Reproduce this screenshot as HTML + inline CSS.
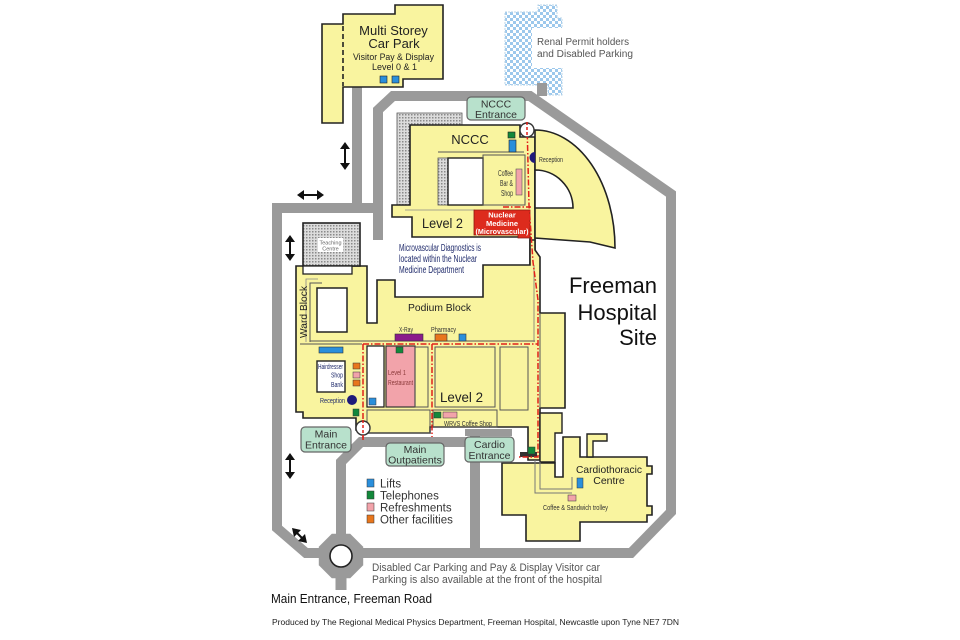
<!DOCTYPE html>
<html><head><meta charset="utf-8">
<style>html,body{margin:0;padding:0;background:#fff}svg{display:block}</style>
</head>
<body>
<svg width="960" height="640" viewBox="0 0 960 640" xmlns="http://www.w3.org/2000/svg" font-family="'Liberation Sans', sans-serif">
<defs>
  <pattern id="stip" width="3" height="3" patternUnits="userSpaceOnUse">
    <rect width="3" height="3" fill="#dcdcdc"/><rect width="1.5" height="1.5" fill="#8a8a8a"/>
  </pattern>
  <pattern id="chk" width="6" height="6" patternUnits="userSpaceOnUse">
    <rect width="6" height="6" fill="#ffffff"/>
    <rect width="3" height="3" fill="#9cc8ec"/><rect x="3" y="3" width="3" height="3" fill="#9cc8ec"/>
  </pattern>
</defs>
<rect width="960" height="640" fill="#fff"/>

<!-- Renal parking -->
<polygon points="505,12 538,12 538,5 557,5 557,18 562,18 562,95 548,95 548,85 505,85" fill="url(#chk)" stroke="#b8d4ea" stroke-width="1" stroke-dasharray="2,1"/>
<rect x="532" y="28" width="32" height="40" fill="#fff"/>
<text x="537" y="45" font-size="10" fill="#555" textLength="92" lengthAdjust="spacingAndGlyphs">Renal Permit holders</text>
<text x="537" y="57" font-size="10" fill="#555" textLength="96" lengthAdjust="spacingAndGlyphs">and Disabled Parking</text>

<!-- Roads -->
<g fill="none" stroke="#9a9a9a" stroke-width="10" stroke-linejoin="miter">
  <path d="M357,87 V213"/>
  <path d="M383,208 H277 V528 L306,553 H341"/>
  <path d="M378,240 V110 L393,96 H530 L671,194 V512 L631,553 H341"/>
  <path d="M542,83 V96"/>
  <path d="M341,540 V462 L361,442 H480"/>
  <path d="M475,430 V553"/>
  <path d="M341,570 V590" stroke-width="11"/>
</g>
<rect x="465" y="429" width="47" height="7" fill="#9a9a9a"/>
<polygon points="363.2,546.8 350.2,533.8 331.8,533.8 318.8,546.8 318.8,565.2 331.8,578.2 350.2,578.2 363.2,565.2" fill="#9a9a9a"/>
<circle cx="341" cy="556" r="11" fill="#fff" stroke="#222" stroke-width="1.6"/>

<!-- Car park -->
<polygon points="322,24 343,24 343,14 395,14 395,5 443,5 443,79 403,79 403,87 343,87 343,123 322,123" fill="#f9f49f" stroke="#222" stroke-width="1.6"/>
<line x1="343" y1="26" x2="343" y2="86" stroke="#222" stroke-width="1.6" stroke-dasharray="5,3"/>
<rect x="380" y="76" width="7" height="7" fill="#2a8fdc" stroke="#222" stroke-width="0.6"/>
<rect x="392" y="76" width="7" height="7" fill="#2a8fdc" stroke="#222" stroke-width="0.6"/>
<text x="393.5" y="35" font-size="13" fill="#222" text-anchor="middle">Multi Storey</text>
<text x="394" y="48" font-size="13" fill="#222" text-anchor="middle">Car Park</text>
<text x="393.5" y="60" font-size="9" fill="#222" text-anchor="middle" textLength="81" lengthAdjust="spacingAndGlyphs">Visitor Pay &amp; Display</text>
<text x="394.5" y="70" font-size="9" fill="#222" text-anchor="middle" textLength="45" lengthAdjust="spacingAndGlyphs">Level 0 &amp; 1</text>

<!-- NCCC stipple L -->
<polygon points="397,113 462,113 462,125 410,125 410,205 397,205" fill="url(#stip)" stroke="#555" stroke-width="0.8"/>

<!-- Top group: NCCC + corridor + Level 2 -->
<polygon points="410,125 520,125 520,137 535,137 535,268 530,268 530,237 412,237 412,217 392,217 392,205 410,205" fill="#f9f49f" stroke="#222" stroke-width="1.6"/>
<rect x="438" y="158" width="10" height="47" fill="url(#stip)" stroke="#555" stroke-width="0.8"/>
<rect x="448" y="158" width="35" height="47" fill="#fff" stroke="#222" stroke-width="1.4"/>
<line x1="438" y1="152" x2="524" y2="152" stroke="#555" stroke-width="1"/>
<rect x="483" y="155" width="42" height="50" fill="none" stroke="#555" stroke-width="1"/>
<line x1="405" y1="210" x2="475" y2="210" stroke="#888" stroke-width="0.8"/>
<rect x="508" y="132" width="7" height="6" fill="#12883a" stroke="#222" stroke-width="0.6"/>
<rect x="509" y="140" width="7" height="12" fill="#2a8fdc" stroke="#222" stroke-width="0.6"/>
<rect x="516" y="169" width="6" height="26" fill="#f2a3aa" stroke="#555" stroke-width="0.6"/>
<text x="470" y="144" font-size="13" fill="#222" text-anchor="middle">NCCC</text>
<text x="513" y="176" font-size="8.5" fill="#333" text-anchor="end" textLength="15" lengthAdjust="spacingAndGlyphs">Coffee</text>
<text x="513" y="186" font-size="8.5" fill="#333" text-anchor="end" textLength="13" lengthAdjust="spacingAndGlyphs">Bar &amp;</text>
<text x="513" y="196" font-size="8.5" fill="#333" text-anchor="end" textLength="12" lengthAdjust="spacingAndGlyphs">Shop</text>
<text x="422" y="228" font-size="13.5" fill="#222" textLength="41" lengthAdjust="spacingAndGlyphs">Level 2</text>

<!-- Nuclear medicine -->
<polygon points="474,210 530,210 530,238 518,238 518,235 474,235" fill="#dd2b1d" stroke="#8a1a10" stroke-width="0.8"/>
<text x="502" y="217.5" font-size="7.5" font-weight="bold" fill="#fff" text-anchor="middle">Nuclear</text>
<text x="502" y="226" font-size="7.5" font-weight="bold" fill="#fff" text-anchor="middle">Medicine</text>
<text x="502" y="234" font-size="7.5" font-weight="bold" fill="#fff" text-anchor="middle" textLength="53" lengthAdjust="spacingAndGlyphs">(Microvascular)</text>

<!-- Curved NCCC building -->
<path d="M535,130 A80,118 0 0 1 615,248 L590,242 L535,238 Z" fill="#f9f49f" stroke="#222" stroke-width="1.6"/>
<path d="M535,170 A38,38 0 0 1 573,208 L535,208 Z" fill="#fff" stroke="#222" stroke-width="1.6"/>
<path d="M535,152 A5,5 0 0 0 535,163 Z" fill="#1f1a7a"/>
<text x="539" y="162" font-size="7.5" fill="#333" textLength="24" lengthAdjust="spacingAndGlyphs">Reception</text>

<!-- Main complex -->
<polygon points="296,266 367,266 367,323 377,323 377,280 395,280 395,297 483,297 483,265 530,265 530,240 535,240 535,250 540,257 540,313 565,313 565,408 540,408 540,460 528,460 528,427 430,427 430,433 368,433 368,430 356,430 356,418 303,418 303,412 296,412" fill="#f9f49f" stroke="#222" stroke-width="1.6"/>
<!-- teaching centre -->
<rect x="303" y="223" width="57" height="43" fill="url(#stip)" stroke="#222" stroke-width="1.6"/>
<rect x="318" y="238" width="25" height="14" fill="#fff"/>
<text x="330.5" y="244.5" font-size="5.5" fill="#666" text-anchor="middle">Teaching</text>
<text x="330.5" y="250.5" font-size="5.5" fill="#666" text-anchor="middle">Centre</text>
<rect x="303" y="266" width="49" height="8" fill="#fff" stroke="#222" stroke-width="1.3"/>
<!-- ward block -->
<polyline points="322,283 310,283 310,342" fill="none" stroke="#555" stroke-width="1"/>
<polyline points="318,279 306,279 306,342" fill="none" stroke="#888" stroke-width="0.8"/>
<rect x="317" y="288" width="30" height="44" fill="#fff" stroke="#222" stroke-width="1.5"/>
<text transform="translate(307,338) rotate(-90)" font-size="10.5" fill="#222" textLength="52" lengthAdjust="spacingAndGlyphs">Ward Block</text>
<line x1="310" y1="341" x2="535" y2="341" stroke="#555" stroke-width="1"/>
<line x1="300" y1="344" x2="362" y2="344" stroke="#555" stroke-width="1"/>
<line x1="534" y1="265" x2="534" y2="342" stroke="#777" stroke-width="0.8"/>
<line x1="540" y1="313" x2="540" y2="408" stroke="#555" stroke-width="1"/>
<text x="408" y="311" font-size="10.5" fill="#222" textLength="63" lengthAdjust="spacingAndGlyphs">Podium Block</text>
<text x="399" y="251" font-size="10" fill="#1f2a6b" textLength="82" lengthAdjust="spacingAndGlyphs">Microvascular Diagnostics is</text>
<text x="399" y="262" font-size="10" fill="#1f2a6b" textLength="78" lengthAdjust="spacingAndGlyphs">located within the Nuclear</text>
<text x="399" y="273" font-size="10" fill="#1f2a6b" textLength="65" lengthAdjust="spacingAndGlyphs">Medicine Department</text>

<!-- X-ray / pharmacy -->
<text x="399" y="332" font-size="7.5" fill="#333" textLength="14" lengthAdjust="spacingAndGlyphs">X-Ray</text>
<text x="431" y="332" font-size="7.5" fill="#333" textLength="25" lengthAdjust="spacingAndGlyphs">Pharmacy</text>
<rect x="395" y="334" width="28" height="7" fill="#8b1a8b" stroke="#333" stroke-width="0.6"/>
<rect x="435" y="334" width="12" height="7" fill="#e8761c" stroke="#333" stroke-width="0.6"/>
<rect x="459" y="334" width="7" height="7" fill="#2a8fdc" stroke="#333" stroke-width="0.6"/>

<!-- ward facilities -->
<rect x="319" y="347" width="24" height="6" fill="#2a8fdc" stroke="#333" stroke-width="0.6"/>
<rect x="317" y="361" width="28" height="31" fill="#fff" stroke="#222" stroke-width="1.4"/>
<text x="318" y="369" font-size="7" fill="#1f2a6b" textLength="25" lengthAdjust="spacingAndGlyphs">Hairdresser</text>
<text x="343" y="377.5" font-size="7" fill="#1f2a6b" text-anchor="end" textLength="12" lengthAdjust="spacingAndGlyphs">Shop</text>
<text x="343" y="387" font-size="7" fill="#1f2a6b" text-anchor="end" textLength="12" lengthAdjust="spacingAndGlyphs">Bank</text>
<rect x="353" y="363" width="7" height="6" fill="#e8761c" stroke="#333" stroke-width="0.5"/>
<rect x="353" y="372" width="7" height="6" fill="#f2a3aa" stroke="#333" stroke-width="0.5"/>
<rect x="353" y="380" width="7" height="6" fill="#e8761c" stroke="#333" stroke-width="0.5"/>
<circle cx="352" cy="400" r="5" fill="#1f1a7a"/>
<text x="320" y="403" font-size="7.5" fill="#1f2a6b" textLength="25" lengthAdjust="spacingAndGlyphs">Reception</text>
<rect x="353" y="409" width="6" height="7" fill="#12883a" stroke="#333" stroke-width="0.5"/>

<!-- Level 1 grid -->
<rect x="367" y="346" width="17" height="61" fill="#fff" stroke="#222" stroke-width="1.3"/>
<rect x="369" y="398" width="7" height="7" fill="#2a8fdc" stroke="#333" stroke-width="0.5"/>
<rect x="386" y="346" width="29" height="61" fill="#f2a3aa" stroke="#333" stroke-width="1.2"/>
<rect x="396" y="347" width="7" height="6" fill="#12883a" stroke="#333" stroke-width="0.5"/>
<text x="388" y="375" font-size="7.5" fill="#8b3a3a" textLength="18" lengthAdjust="spacingAndGlyphs">Level 1</text>
<text x="388" y="385" font-size="7.5" fill="#8b3a3a" textLength="25" lengthAdjust="spacingAndGlyphs">Restaurant</text>
<rect x="415" y="347" width="13" height="60" fill="none" stroke="#555" stroke-width="1"/>
<rect x="435" y="347" width="60" height="60" fill="none" stroke="#555" stroke-width="1"/>
<rect x="500" y="347" width="28" height="63" fill="none" stroke="#555" stroke-width="1"/>
<rect x="367" y="410" width="63" height="23" fill="none" stroke="#555" stroke-width="1"/>
<rect x="433" y="410" width="64" height="17" fill="none" stroke="#555" stroke-width="1"/>
<text x="440" y="402" font-size="14" fill="#222" textLength="43" lengthAdjust="spacingAndGlyphs">Level 2</text>
<rect x="434" y="412" width="7" height="6" fill="#12883a" stroke="#333" stroke-width="0.5"/>
<rect x="443" y="412" width="14" height="6" fill="#f2a3aa" stroke="#333" stroke-width="0.5"/>
<text x="444" y="426" font-size="7" fill="#333" textLength="48" lengthAdjust="spacingAndGlyphs">WRVS Coffee Shop</text>

<!-- Cardiothoracic -->
<polygon points="540,413 562,413 562,433 555,433 555,462 540,462" fill="#f9f49f" stroke="#222" stroke-width="1.4"/>
<polygon points="502,463 555,463 555,477 563,477 563,437 580,437 580,457 647,457 647,466 652,466 652,474 647,474 647,506 652,506 652,515 647,515 647,522 580,522 580,541 526,541 526,515 502,515" fill="#f9f49f" stroke="#222" stroke-width="1.6"/>
<polygon points="587,457 587,434 607,434 607,441 593,441 593,457" fill="#f9f49f" stroke="#222" stroke-width="1.4"/>
<polyline points="535,460 535,493 572,493" fill="none" stroke="#777" stroke-width="1"/>
<polyline points="540,462 540,489 572,489 572,477" fill="none" stroke="#777" stroke-width="1"/>
<rect x="577" y="478" width="6" height="10" fill="#2a8fdc" stroke="#333" stroke-width="0.5"/>
<rect x="568" y="495" width="8" height="6" fill="#f2a3aa" stroke="#333" stroke-width="0.5"/>
<text x="609" y="473" font-size="10.5" fill="#222" text-anchor="middle" textLength="66" lengthAdjust="spacingAndGlyphs">Cardiothoracic</text>
<text x="609" y="484" font-size="10.5" fill="#222" text-anchor="middle">Centre</text>
<text x="543" y="510" font-size="7" fill="#333" textLength="65" lengthAdjust="spacingAndGlyphs">Coffee &amp; Sandwich trolley</text>
<rect x="520" y="452" width="17" height="5" fill="#333"/>
<rect x="528" y="447" width="7" height="7" fill="#12883a" stroke="#333" stroke-width="0.5"/>

<!-- Red route -->
<g fill="none" stroke="#e0201a" stroke-width="1.5" stroke-dasharray="6,2,1.5,2">
  <path d="M527,122 L529,205 L533,262 L538,300 L538,457 L517,457"/>
  <path d="M503,207 H531"/>
  <path d="M363,344 H538"/>
  <path d="M363,344 V440"/>
  <path d="M432,344 V437"/>
</g>

<!-- entrance circles -->
<circle cx="527" cy="130" r="7" fill="#fff" stroke="#333" stroke-width="1.4"/>
<line x1="527" y1="122" x2="527" y2="138" stroke="#e0201a" stroke-width="1.5" stroke-dasharray="3,2"/>
<circle cx="363" cy="428" r="7" fill="#fff" stroke="#333" stroke-width="1.4"/>
<line x1="363" y1="420" x2="363" y2="440" stroke="#e0201a" stroke-width="1.5" stroke-dasharray="3,2"/>

<!-- Entrance labels -->
<g fill="#b8e1cc" stroke="#666" stroke-width="1.2">
  <rect x="467" y="97" width="58" height="23" rx="4"/>
  <rect x="301" y="427" width="50" height="25" rx="4"/>
  <rect x="386" y="443" width="58" height="23" rx="4"/>
  <rect x="465" y="437" width="49" height="25" rx="4"/>
</g>
<g font-size="10.5" fill="#333" text-anchor="middle">
  <text x="496" y="107.5">NCCC</text>
  <text x="496" y="118">Entrance</text>
  <text x="326" y="437.5">Main</text>
  <text x="326" y="448.5">Entrance</text>
  <text x="415" y="453">Main</text>
  <text x="415" y="463.5">Outpatients</text>
  <text x="489.5" y="448">Cardio</text>
  <text x="489.5" y="459">Entrance</text>
</g>

<!-- Arrows -->
<g stroke="#111" stroke-width="2" fill="#111">
  <line x1="345" y1="148" x2="345" y2="164"/>
  <polygon points="345,142 340,149 350,149" stroke="none"/>
  <polygon points="345,170 340,163 350,163" stroke="none"/>
  <line x1="303" y1="195" x2="318" y2="195"/>
  <polygon points="297,195 304,190 304,200" stroke="none"/>
  <polygon points="324,195 317,190 317,200" stroke="none"/>
  <line x1="290" y1="241" x2="290" y2="255"/>
  <polygon points="290,235 285,242 295,242" stroke="none"/>
  <polygon points="290,261 285,254 295,254" stroke="none"/>
  <line x1="290" y1="459" x2="290" y2="473"/>
  <polygon points="290,453 285,460 295,460" stroke="none"/>
  <polygon points="290,479 285,472 295,472" stroke="none"/>
  <line x1="296" y1="532" x2="303" y2="539"/>
  <polygon points="292,528 301,530 294,537" stroke="none"/>
  <polygon points="307,543 298,541 305,534" stroke="none"/>
</g>

<!-- Site text -->
<g font-size="22" fill="#111" text-anchor="end">
  <text x="657" y="293">Freeman</text>
  <text x="657" y="320">Hospital</text>
  <text x="657" y="345">Site</text>
</g>

<!-- Legend -->
<rect x="367" y="479" width="7" height="8" fill="#2a8fdc" stroke="#333" stroke-width="0.5"/>
<rect x="367" y="491" width="7" height="8" fill="#12883a" stroke="#333" stroke-width="0.5"/>
<rect x="367" y="503" width="7" height="8" fill="#f2a3aa" stroke="#333" stroke-width="0.5"/>
<rect x="367" y="515" width="7" height="8" fill="#e8761c" stroke="#333" stroke-width="0.5"/>
<g font-size="11.5" fill="#333">
  <text x="380" y="487.5">Lifts</text>
  <text x="380" y="499.5">Telephones</text>
  <text x="380" y="511.5">Refreshments</text>
  <text x="380" y="523.5">Other facilities</text>
</g>

<!-- Bottom texts -->
<text x="372" y="571" font-size="11" fill="#555" textLength="228" lengthAdjust="spacingAndGlyphs">Disabled Car Parking and Pay &amp; Display Visitor car</text>
<text x="372" y="583" font-size="11" fill="#555" textLength="230" lengthAdjust="spacingAndGlyphs">Parking is also available at the front of the hospital</text>
<text x="271" y="603" font-size="13" fill="#111" textLength="161" lengthAdjust="spacingAndGlyphs">Main Entrance, Freeman Road</text>
<text x="272" y="625" font-size="8.5" fill="#222" textLength="407" lengthAdjust="spacingAndGlyphs">Produced by The Regional Medical Physics Department, Freeman Hospital, Newcastle upon Tyne NE7 7DN</text>
</svg>
</body></html>
